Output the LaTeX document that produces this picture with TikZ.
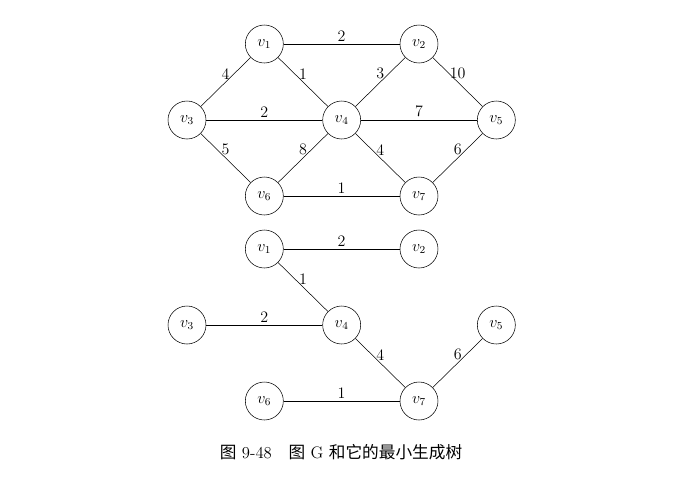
\documentclass[tikz,border=0pt]{standalone}
\usepackage{amsmath}
\usepackage{fontspec}
\newfontfamily\cjk{Noto Sans CJK SC}
\usepackage{tikz}
\usetikzlibrary{positioning}

\begin{document}
\begin{tikzpicture}[x=0.75pt,y=-0.75pt,on grid,node distance=57pt and 58pt,
        vert/.style={circle,draw,minimum size=28.5pt,inner sep=0pt,font=\large},
        wt/.style={above,inner sep=2pt,font=\large}]
        \useasboundingbox (0,0) rectangle (679,480);

        % graph G
        \node[vert] (g3) at (187,120) {$v_3$};
        \node[vert,above right=of g3] (g1) {$v_1$};
        \node[vert,below right=of g3] (g6) {$v_6$};
        \node[vert,below right=of g1] (g4) {$v_4$};
        \node[vert,above right=of g4] (g2) {$v_2$};
        \node[vert,below right=of g4] (g7) {$v_7$};
        \node[vert,below right=of g2] (g5) {$v_5$};

        \draw (g1) -- node[wt] {2} (g2);
        \draw (g3) -- node[wt] {4} (g1);
        \draw (g1) -- node[wt] {1} (g4);
        \draw (g4) -- node[wt] {3} (g2);
        \draw (g2) -- node[wt] {10} (g5);
        \draw (g3) -- node[wt] {2} (g4);
        \draw (g4) -- node[wt] {7} (g5);
        \draw (g3) -- node[wt] {5} (g6);
        \draw (g6) -- node[wt] {8} (g4);
        \draw (g4) -- node[wt] {4} (g7);
        \draw (g7) -- node[wt] {6} (g5);
        \draw (g6) -- node[wt] {1} (g7);

        % minimum spanning tree
        \node[vert] (t3) at (187,325) {$v_3$};
        \node[vert,above right=of t3] (t1) {$v_1$};
        \node[vert,below right=of t3] (t6) {$v_6$};
        \node[vert,below right=of t1] (t4) {$v_4$};
        \node[vert,above right=of t4] (t2) {$v_2$};
        \node[vert,below right=of t4] (t7) {$v_7$};
        \node[vert,below right=of t2] (t5) {$v_5$};

        \draw (t1) -- node[wt] {2} (t2);
        \draw (t1) -- node[wt] {1} (t4);
        \draw (t3) -- node[wt] {2} (t4);
        \draw (t4) -- node[wt] {4} (t7);
        \draw (t7) -- node[wt] {6} (t5);
        \draw (t6) -- node[wt] {1} (t7);

        \node[font=\fontsize{12.5}{15}\selectfont] (cap) at (341,452)
            {{\cjk 图} 9-48\quad {\cjk 图} G {\cjk 和它的最小生成树}};
    \end{tikzpicture}
\end{document}
